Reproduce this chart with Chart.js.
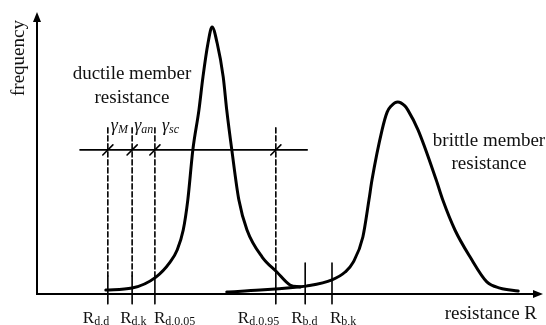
<!DOCTYPE html>
<html>
<head>
<meta charset="utf-8">
<script src="https://cdn.jsdelivr.net/npm/chart.js@4/dist/chart.umd.min.js"></script>
<style>
  html, body { margin: 0; padding: 0; background: #ffffff; }
  #wrap { width: 546px; height: 325px; position: relative; }
</style>
</head>
<body>
<div id="wrap"><canvas id="c" width="546" height="325"></canvas></div>
<script>
// ---- data (x: resistance 0-100, y: frequency 0-100) ----
const ductileR = [13.6, 18.8, 23.5, 26.3, 27.7, 28.9, 29.8, 30.8, 32.0, 32.8, 33.8, 34.6, 35.6, 36.8, 37.5, 38.5, 39.9, 41.5, 44.5, 47.4, 50.0, 52.0];
const ductileF = [1.4, 2.1, 6.0, 11.3, 15.6, 22.7, 33.3, 51.1, 65.2, 77.0, 89.0, 94.7, 89.0, 77.0, 65.2, 51.1, 33.3, 22.7, 13.1, 7.8, 3.2, 2.5];

const brittleR = [37.5, 44.1, 51.6, 53.2, 58.3, 60.9, 62.5, 64.4, 65.6, 66.2, 68.2, 69.2, 70.0, 71.3, 72.7, 73.3, 75.3, 78.9, 80.2, 82.6, 85.6, 88.9, 91.5, 95.1];
const brittleF = [0.7, 1.4, 2.5, 2.8, 5.0, 7.8, 11.3, 20.2, 33.3, 40.4, 58.2, 64.5, 66.7, 68.1, 66.7, 65.2, 58.2, 40.4, 33.3, 22.7, 13.1, 4.3, 2.1, 1.1];

// resistance markers on the x axis
const markerR     = [14.0, 18.8, 23.3, 47.2, 53.0, 58.3];
const markerSub   = ['d,d', 'd,k', 'd,0.05', 'd,0.95', 'b,d', 'b,k'];
const markerTopF  = [58.9, 58.9, 58.9, 58.9, 11.0, 11.0];   // top of the line (dashed part starts)
const markerSolidF = [6.4, 6.4, 6.4, 8.5, 11.0, 11.0];     // where the solid part starts
const markerBottomF = -3.5;

// safety factor line
const gammaLevelF = 51.1;
const gammaLineR  = [8.5, 53.4];
const gammaSubs   = ['M', 'an', 'sc'];

// ---- datasets built from the arrays ----
const toPts = (xs, ys) => xs.map((x, i) => ({ x: x, y: ys[i] }));
const datasets = [];
datasets.push({ data: toPts(ductileR, ductileF), borderColor: '#000', borderWidth: 3, cubicInterpolationMode: 'monotone', clip: false });
datasets.push({ data: toPts(brittleR, brittleF), borderColor: '#000', borderWidth: 3, cubicInterpolationMode: 'monotone', clip: false });
datasets.push({ data: toPts(gammaLineR, [gammaLevelF, gammaLevelF]), borderColor: '#000', borderWidth: 1.6, clip: false });
markerR.forEach((r, i) => {
  if (markerTopF[i] > markerSolidF[i]) {
    datasets.push({ data: [{ x: r, y: markerTopF[i] }, { x: r, y: markerSolidF[i] }], borderColor: '#000', borderWidth: 1.6, borderDash: [5, 3], clip: false });
    // slash across the gamma line
    datasets.push({ data: [{ x: r - 1.0, y: gammaLevelF - 1.8 }, { x: r + 1.0, y: gammaLevelF + 1.8 }], borderColor: '#000', borderWidth: 1.6, clip: false });
  }
  datasets.push({ data: [{ x: r, y: markerSolidF[i] }, { x: r, y: markerBottomF }], borderColor: '#000', borderWidth: 1.6, clip: false });
});

// ---- plugin: axes with arrows and text ----
const diagramPlugin = {
  id: 'diagram',
  beforeDatasetsDraw(chart) {
    const ctx = chart.ctx, a = chart.chartArea;
    ctx.save();
    ctx.strokeStyle = '#000';
    ctx.fillStyle = '#000';
    ctx.lineWidth = 2;
    ctx.beginPath();
    ctx.moveTo(a.left, a.top + 6);
    ctx.lineTo(a.left, a.bottom);
    ctx.lineTo(a.right - 6, a.bottom);
    ctx.stroke();
    // arrow heads
    ctx.beginPath();
    ctx.moveTo(a.left, a.top);
    ctx.lineTo(a.left - 4, a.top + 10);
    ctx.lineTo(a.left + 4, a.top + 10);
    ctx.closePath(); ctx.fill();
    ctx.beginPath();
    ctx.moveTo(a.right, a.bottom);
    ctx.lineTo(a.right - 10, a.bottom - 4);
    ctx.lineTo(a.right - 10, a.bottom + 4);
    ctx.closePath(); ctx.fill();
    ctx.restore();
  },
  afterDraw(chart) {
    const ctx = chart.ctx, a = chart.chartArea;
    const xs = chart.scales.x, ys = chart.scales.y;
    ctx.save();
    ctx.fillStyle = '#111';
    ctx.textBaseline = 'alphabetic';
    const serif = '"Liberation Serif", "Times New Roman", serif';

    // y axis title
    ctx.save();
    ctx.translate(24, 58);
    ctx.rotate(-Math.PI / 2);
    ctx.font = '19px ' + serif;
    ctx.textAlign = 'center';
    ctx.fillText('frequency', 0, 0);
    ctx.restore();

    // x axis title
    ctx.font = '19px ' + serif;
    ctx.textAlign = 'right';
    ctx.fillText('resistance R', a.right - 6, 319);

    // curve annotations
    ctx.textAlign = 'center';
    ctx.fillText('ductile member', 132, 79);
    ctx.fillText('resistance', 132, 103);
    ctx.fillText('brittle member', 489, 146);
    ctx.fillText('resistance', 489, 169);

    // marker labels R with subscripts
    const labelOffsets = [-25, -12, -1, -38, -14, -2];
    ctx.textAlign = 'left';
    markerR.forEach((r, i) => {
      const px = xs.getPixelForValue(r) + labelOffsets[i];
      ctx.font = '17px ' + serif;
      ctx.fillText('R', px, 323);
      const w = ctx.measureText('R').width;
      ctx.font = '12px ' + serif;
      ctx.fillText(markerSub[i], px + w, 325);
    });

    // gamma labels
    const gammaLeft = [xs.getPixelForValue(markerR[0]) + 3, xs.getPixelForValue(markerR[1]) + 2, xs.getPixelForValue(markerR[2]) + 7];
    const gy = ys.getPixelForValue(gammaLevelF) - 19;
    gammaSubs.forEach((s, i) => {
      ctx.font = 'italic 18px ' + serif;
      ctx.fillText('\u03B3', gammaLeft[i], gy);
      const w = ctx.measureText('\u03B3').width;
      ctx.font = 'italic 12px ' + serif;
      ctx.fillText(s, gammaLeft[i] + w, gy + 2);
    });
    ctx.restore();
  }
};

new Chart(document.getElementById('c'), {
  type: 'scatter',
  data: { datasets: datasets },
  options: {
    responsive: false,
    animation: false,
    devicePixelRatio: 1,
    showLine: true,
    elements: { point: { radius: 0, hoverRadius: 0 }, line: { borderCapStyle: 'round', borderJoinStyle: 'round' } },
    layout: { padding: { left: 37, top: 12, right: 3, bottom: 31 } },
    plugins: { legend: { display: false }, tooltip: { enabled: false } },
    scales: {
      x: { type: 'linear', min: 0, max: 100, display: false },
      y: { type: 'linear', min: 0, max: 100, display: false }
    }
  },
  plugins: [diagramPlugin]
});
</script>
</body>
</html>
